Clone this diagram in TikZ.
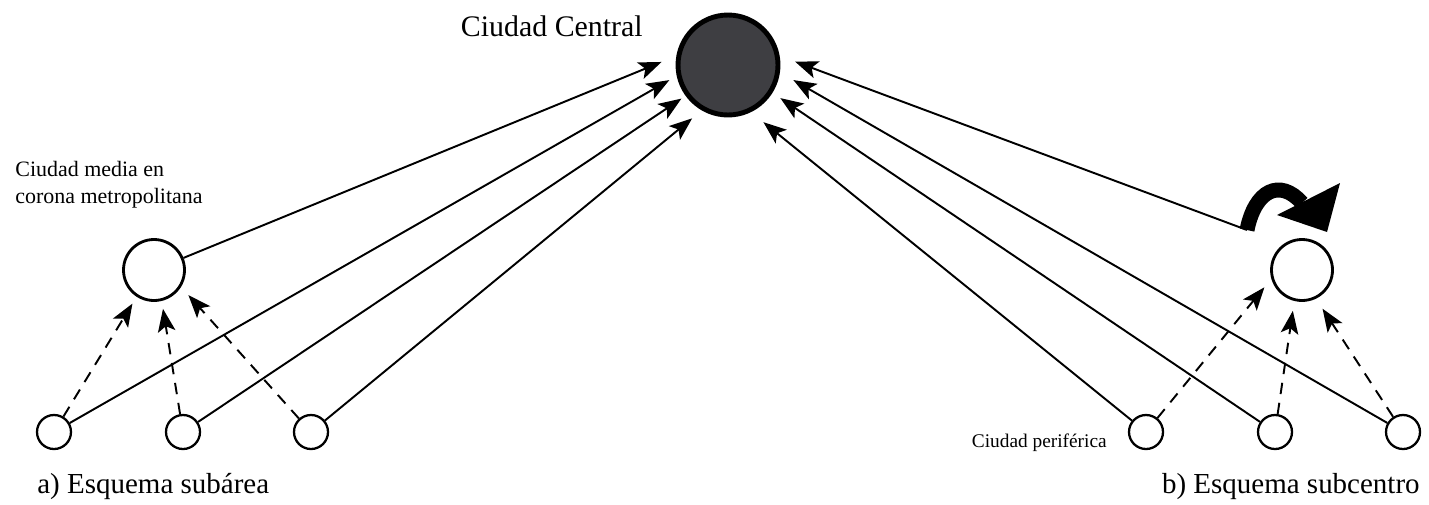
\documentclass[tikz,border=0pt]{standalone}
\usepackage{fontspec}
\setmainfont{Liberation Serif}
\usetikzlibrary{arrows.meta}
\definecolor{centralfill}{HTML}{3E3E42}
\begin{document}
\begin{tikzpicture}[x=0.02cm,y=-0.02cm,
  bigcity/.style={circle,draw,line width=2.8pt,fill=centralfill,minimum size=2.0cm,inner sep=0},
  midcity/.style={circle,draw,line width=1.6pt,fill=white,minimum size=1.22cm,inner sep=0},
  smallcity/.style={circle,draw,line width=1.3pt,fill=white,minimum size=0.68cm,inner sep=0},
  flow/.style={line width=1.1pt,-{Stealth[length=13pt,width=10pt,inset=3pt]}},
  subflow/.style={flow,dash pattern=on 6.5pt off 5pt},
  lbl/.style={inner sep=0,font=\fontsize{17}{20}\selectfont},
]
\useasboundingbox (0,0) rectangle (1429,504);

% nodes
\node[bigcity] (cc) at (728,65) {};
\node[midcity] (ml) at (154,270) {};
\node[midcity] (mr) at (1302,270) {};
\node[smallcity] (b1) at (54,432) {};
\node[smallcity] (b2) at (183,432) {};
\node[smallcity] (b3) at (311,432) {};
\node[smallcity] (r1) at (1146,432) {};
\node[smallcity] (r2) at (1275,432) {};
\node[smallcity] (r3) at (1403,432) {};
\coordinate (k) at (1247,230);

% labels
\node[lbl,anchor=base east] (tcc) at (643,36) {Ciudad Central};
\node[inner sep=0,anchor=north west,align=left,font=\fontsize{12.5}{15.5}\selectfont] (tml) at (15,161) {Ciudad media en\\corona metropolitana};
\node[inner sep=0,anchor=base east,font=\fontsize{11}{13}\selectfont] (tper) at (1107,447) {Ciudad periférica};
\node[lbl,anchor=base west,font=\fontsize{16.5}{20}\selectfont] (ta) at (37,493) {a) Esquema subárea};
\node[lbl,anchor=base east,font=\fontsize{16.5}{20}\selectfont] (tb) at (1420,493) {b) Esquema subcentro};

% left scheme: solid flows to central city
\draw[flow,shorten >=0.32cm] (ml) -- (cc.170);
\draw[flow,shorten >=0.17cm] (b1) -- (cc.192);
\draw[flow,shorten >=0.10cm] (b2) -- (cc.216);
\draw[flow,shorten >=0.25cm] (b3) -- (cc.240);
% left scheme: dashed flows to mid city
\draw[subflow,shorten >=0.16cm] (b1) -- (ml.237);
\draw[subflow,shorten >=0.16cm] (b2) -- (ml.284);
\draw[subflow,shorten >=0.22cm] (b3) -- (ml.328);

% right scheme: solid flows to central city
\draw[flow,shorten >=0.33cm] (k) -- (cc.10);
\draw[flow,shorten >=0.31cm] (r3) -- (cc.352);
\draw[flow,shorten >=0.19cm] (r2) -- (cc.328);
\draw[flow,shorten >=0.32cm] (r1) -- (cc.296);
% right scheme: dashed flows to subcentre
\draw[subflow,shorten >=0.22cm] (r1) -- (mr.196);
\draw[subflow,shorten >=0.20cm] (r2) -- (mr.256);
\draw[subflow,shorten >=0.24cm] (r3) -- (mr.296);

% curved redirect arrow
\draw[line width=8.5pt] (k) .. controls (1255,190) and (1280,178) .. (1302,203);
\fill (1277,215) -- (1340,183) -- (1327,232) -- cycle;
\end{tikzpicture}
\end{document}
